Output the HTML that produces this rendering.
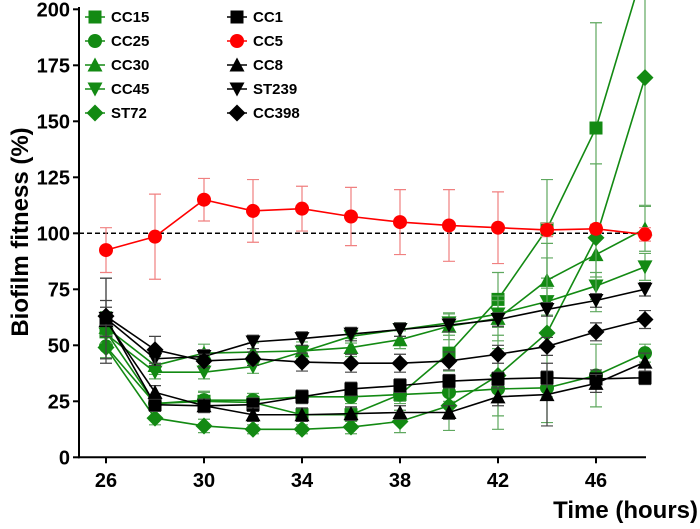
<!DOCTYPE html>
<html><head><meta charset="utf-8">
<style>
body{margin:0;background:#fff;}
svg text{font-family:"Liberation Sans",Arial,sans-serif;font-weight:bold;}
</style></head>
<body>
<svg id="chart" width="700" height="524" viewBox="0 0 700 524" xmlns="http://www.w3.org/2000/svg">
<defs><clipPath id="plotclip"><rect x="78" y="0" width="622" height="460"/></clipPath></defs>
<g id="axes"></g>
<g id="series" clip-path="url(#plotclip)"></g>
<g id="legend"></g>
</svg>
<script>
const hours = [26,28,30,32,34,36,38,40,42,44,46,48];
const yTicks = [0,25,50,75,100,125,150,175,200];
const xTicks = [26,30,34,38,42,46];
const cc15 = [56,24,25,24.5,19,19,28,46.5,70.5,102,147,220];
const cc15Err = [8,3,4,4,3,3,4,8,12,22,47,0];
const cc25 = [49.5,24,25.5,25.5,27,27,28,29,30.5,31,36.5,46.5];
const cc25Err = [5,3,4,3,3,3,3,4,18,4,14,4];
const cc30 = [58,41,46.5,47,47.5,49,52.5,58.5,62,79,90.5,102];
const cc30Err = [7,4,4,4,4,4,4,6,10,10,10,10];
const cc45 = [55,38,38,40.5,47,54,57,60,64,69.5,76.5,85];
const cc45Err = [6,3,3,3,3,3,3,4,6,6,6,6];
const st72 = [49,17.5,14,12.5,12.5,13.5,16,23,36.5,55.5,98,169.5];
const st72Err = [5,3,3,2,2,3,5,11,18,40,33,57];
const cc1 = [62,23.5,23,23.5,27,30.5,32,34,35,35.5,35,35.5];
const cc1Err = [8,3,3,3,3,3,3,3,3,3,4,3];
const cc5 = [92.5,98.5,115,110,111,107.5,105,103.5,102.5,101.5,102,99.5];
const cc5Err = [10,19,9.5,14,10,13,14.5,16,16,3,2,3];
const cc8 = [61,29,23,19,19,19.5,20,20,27,28,33,42.5];
const cc8Err = [19,3,3,3,3,3,3,3,4,14,4,4];
const st239 = [62,44,45,51.5,53,55,57,59,61.5,66,70,75];
const st239Err = [18,3,3,3,3,3,3,3,3,3,3,3];
const cc398 = [63,48,43,44,42.5,42,42,43,46,49.5,56,61.5];
const cc398Err = [4,6,3,3,4,4,4,4,4,4,4,4];

const G='#138a13', K='#000', R='#ff0000';
const seriesList = [
 {name:'CC15',data:cc15,err:cc15Err,color:G,marker:'square'},
 {name:'CC25',data:cc25,err:cc25Err,color:G,marker:'circle'},
 {name:'CC30',data:cc30,err:cc30Err,color:G,marker:'tri'},
 {name:'CC45',data:cc45,err:cc45Err,color:G,marker:'dtri'},
 {name:'ST72',data:st72,err:st72Err,color:G,marker:'diamond'},
 {name:'CC1',data:cc1,err:cc1Err,color:K,marker:'square'},
 {name:'CC5',data:cc5,err:cc5Err,color:R,marker:'circle'},
 {name:'CC8',data:cc8,err:cc8Err,color:K,marker:'tri'},
 {name:'ST239',data:st239,err:st239Err,color:K,marker:'dtri'},
 {name:'CC398',data:cc398,err:cc398Err,color:K,marker:'diamond'}
];
const NS='http://www.w3.org/2000/svg';
const X0=79, Y0=457.3;
function xs(h){return 106+(h-26)*24.5;}
function ys(v){return Y0-v*2.24;}
function mk(tag,attrs,parent){const e=document.createElementNS(NS,tag);for(const k in attrs)e.setAttribute(k,attrs[k]);parent.appendChild(e);return e;}
function marker(type,x,y,color,parent){
  const s=6.5;let e;
  if(type==='square')e=mk('rect',{x:x-s,y:y-s,width:2*s,height:2*s,fill:color},parent);
  else if(type==='circle')e=mk('circle',{cx:x,cy:y,r:s+0.5,fill:color},parent);
  else if(type==='tri')e=mk('polygon',{points:`${x},${y-s-1} ${x-s-1},${y+s} ${x+s+1},${y+s}`,fill:color},parent);
  else if(type==='dtri')e=mk('polygon',{points:`${x},${y+s+1} ${x-s-1},${y-s} ${x+s+1},${y-s}`,fill:color},parent);
  else e=mk('polygon',{points:`${x},${y-s-2} ${x+s+2},${y} ${x},${y+s+2} ${x-s-2},${y}`,fill:color},parent);
  return e;
}
const axes=document.getElementById('axes');
const yAxis=mk('line',{x1:X0,y1:7,x2:X0,y2:Y0+1,stroke:'#000','stroke-width':2},axes);


const xAxis=mk('line',{x1:X0-1,y1:Y0,x2:646,y2:Y0,stroke:'#000','stroke-width':2},axes);


yTicks.forEach(v=>{
  mk('line',{x1:X0-6,y1:ys(v),x2:X0,y2:ys(v),stroke:'#000','stroke-width':2},axes);
  const t=mk('text',{x:70,y:ys(v)+7,'text-anchor':'end','font-size':20},axes);
  t.textContent=v;
  
  
});
xTicks.forEach(h=>{
  mk('line',{x1:xs(h),y1:Y0,x2:xs(h),y2:Y0+6,stroke:'#000','stroke-width':2},axes);
  const t=mk('text',{x:xs(h),y:487,'text-anchor':'middle','font-size':20},axes);
  t.textContent=h;
  
  
});
const yt=mk('text',{x:0,y:0,'text-anchor':'middle','font-size':24,transform:'translate(28,232) rotate(-90)'},axes);
yt.textContent='Biofilm fitness (%)';


const xt=mk('text',{x:698,y:518,'text-anchor':'end','font-size':24},axes);
xt.textContent='Time (hours)';


const ref=mk('line',{x1:X0,y1:ys(100),x2:643,y2:ys(100),stroke:'#000','stroke-width':1.5,'stroke-dasharray':'5,3'},axes);



const sg=document.getElementById('series');
seriesList.forEach(s=>{
  const g=mk('g',{},sg);
  
  
  const ecol=s.color===R?'#f08080':(s.color===G?'#5fa85f':'#444');
  s.data.forEach((v,i)=>{
    const e=s.err[i];if(!e)return;
    const x=xs(hours[i]);
    const eb=mk('path',{d:`M${x},${ys(v+e)}V${ys(v-e)}M${x-6},${ys(v+e)}h12M${x-6},${ys(v-e)}h12`,stroke:ecol,'stroke-width':1.2,fill:'none'},g);
    
    
  });
  const pts=s.data.map((v,i)=>xs(hours[i])+','+ys(v)).join(' ');
  const pl=mk('polyline',{points:pts,fill:'none',stroke:s.color,'stroke-width':1.6},g);
  
  
  s.data.forEach((v,i)=>{
    const m=marker(s.marker,xs(hours[i]),ys(v),s.color,g);
    
    
  });
});
const lg=document.getElementById('legend');
seriesList.forEach((s,i)=>{
  const col=i<5?0:1,row=i%5;
  const x=95+col*142,y=17+row*24;
  const g=mk('g',{},lg);
  
  
  mk('line',{x1:x-10,y1:y,x2:x+10,y2:y,stroke:s.color,'stroke-width':1.6},g);
  marker(s.marker,x,y,s.color,g);
  const t=mk('text',{x:x+16,y:y+5,'font-size':15},g);
  t.textContent=s.name;
});
</script>
</body></html>
